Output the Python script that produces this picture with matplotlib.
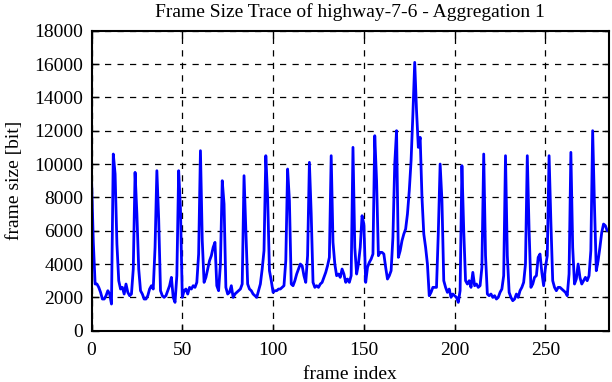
import matplotlib.pyplot as plt
import numpy as np

# frame sizes [bit] (frames 0..285)
frame_size = [
    9200, 5300, 2800, 2800, 2600, 2300, 1900, 1900, 2100, 2400, 2200, 1600,
    10600, 9400, 5200, 3000, 2500, 2600, 2200, 2800, 2300, 2100, 2200, 3700,
    9500, 7000, 3700, 2400, 2200, 1900, 1900, 2100, 2500, 2700, 2500, 5000,
    9600, 6700, 2400, 2100, 2000, 2100, 2400, 2700, 3200, 2000, 1700, 3300,
    9600, 7300, 2000, 2400, 2500, 2200, 2600, 2500, 2700, 2600, 2900, 4600,
    10800, 5400, 2900, 3200, 3700, 4200, 4500, 5000, 5300, 2700, 2400, 4000,
    9000, 7600, 2600, 2200, 2300, 2700, 2000, 2200, 2300, 2400, 2500, 2800,
    9300, 6000, 2800, 2500, 2400, 2200, 2100, 2000, 2400, 2800, 3700, 4800,
    10500, 8000, 3600, 3000, 2300, 2400, 2400, 2500, 2500, 2600, 2700, 4200,
    9700, 7800, 2800, 2700, 3000, 3400, 3700, 4000, 3900, 3300, 2900, 4500,
    10100, 7000, 2900, 2600, 2700, 2600, 2800, 2900, 3200, 3500, 3900, 4400,
    10500, 5300, 4000, 3300, 3400, 3200, 3700, 3400, 2900, 3100, 2900, 3300,
    11000, 5000, 3400, 4000, 5000, 6900, 6400, 2900, 3800, 4100, 4300, 4600,
    11700, 9000, 4500, 4700, 4700, 4600, 3800, 3100, 3300, 3600, 5600, 10000,
    12000, 4400, 4800, 5400, 5800, 6100, 7000, 8400, 10200, 13000, 16100, 13200,
    11000, 11600, 8000, 5800, 5000, 4000, 2100, 2300, 2600, 2600, 2600, 5900,
    10000, 7800, 3000, 2600, 2300, 2500, 2000, 2200, 2100, 2000, 1700, 2400,
    9900, 6000, 3000, 2800, 3000, 2600, 3500, 2700, 2800, 2600, 2700, 3800,
    10600, 4500, 2200, 2100, 2200, 2000, 2100, 1900, 2000, 2300, 2500, 3300,
    10500, 4500, 2300, 2000, 1800, 1900, 2200, 2000, 2400, 2600, 2900, 4000,
    10500, 6000, 2600, 2800, 3200, 3300, 4400, 4600, 3500, 2700, 3800, 4500,
    10500, 6500, 3000, 2600, 2400, 2600, 2600, 2500, 2400, 2300, 2100, 3400,
    10700, 5000, 2800, 3100, 4000, 3200, 2800, 3000, 3200, 3000, 3300, 4800,
    12000, 7500, 3600, 4200, 5000, 5900, 6400, 6300, 6000, 6000,
]
frame_index = np.arange(len(frame_size))

x_ticks = [0, 50, 100, 150, 200, 250]
y_ticks = list(range(0, 18001, 2000))

plt.rcParams['font.family'] = 'Liberation Serif'
plt.rcParams['font.size'] = 14

fig = plt.figure(figsize=(6.12, 3.82), dpi=100)
ax = fig.add_axes([91.5 / 612, 1 - 330.7 / 382, (609 - 91.5) / 612, 300 / 382])

ax.plot(frame_index, frame_size, color='#0000ff', lw=2)

ax.set_xlim(0, 285)
ax.set_ylim(0, 18000)
ax.set_xticks(x_ticks)
ax.set_yticks(y_ticks)
ax.grid(True, color='black', linestyle=(0, (5, 5)), lw=0.9)
ax.tick_params(direction='in', top=True, right=True, length=5, width=1)
ax.tick_params(axis='x', pad=8)
ax.tick_params(axis='y', pad=6)
for s in ax.spines.values():
    s.set_linewidth(1.5)

ax.set_xlabel('frame index', labelpad=5)
ax.set_ylabel('frame size [bit]', labelpad=8)
ax.set_title('Frame Size Trace of highway-7-6 - Aggregation 1', fontsize=14, pad=10)

fig.savefig('out.png', dpi=100)
